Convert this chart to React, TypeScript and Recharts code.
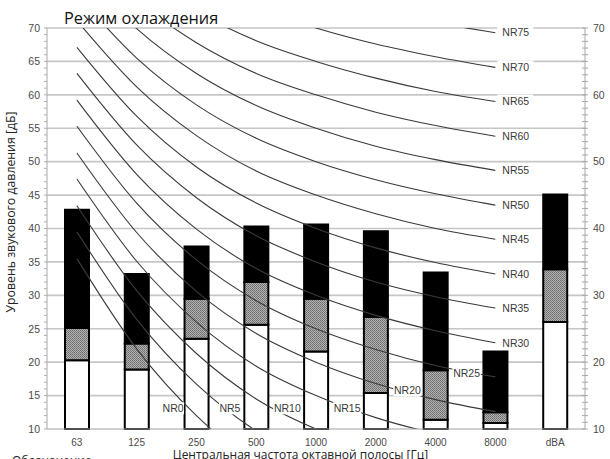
import React from 'react';
import { ComposedChart, Bar, Line, XAxis, YAxis, CartesianGrid, ReferenceDot } from 'recharts';

const bands = ['63', '125', '250', '500', '1000', '2000', '4000', '8000', 'dBA'];

// top of each bar segment, dB (white from 10 upwards, then grey, then black)
const whiteTop = [20.3, 18.9, 23.5, 25.6, 21.6, 15.4, 11.4, 10.9, 26.0];
const greyTop = [25.1, 22.8, 29.5, 32.0, 29.5, 26.8, 18.8, 12.5, 33.9];
const blackTop = [42.8, 33.2, 37.3, 40.3, 40.6, 39.6, 33.4, 21.6, 45.1];

const nrRatings = [0, 5, 10, 15, 20, 25, 30, 35, 40, 45, 50, 55, 60, 65, 70, 75];

// NR curves, levels at 63 Hz ... 8 kHz
const nrCurves = [
  [35.5, 22.0, 12.0, 4.8, 0.0, -3.5, -6.1, -8.0],
  [39.5, 26.4, 16.7, 9.7, 5.0, 1.6, -1.0, -2.9],
  [43.4, 30.7, 21.3, 14.5, 10.0, 6.7, 4.2, 2.3],
  [47.4, 35.1, 26.0, 19.4, 15.0, 11.7, 9.3, 7.5],
  [51.3, 39.4, 30.6, 24.3, 20.0, 16.8, 14.4, 12.6],
  [55.3, 43.8, 35.3, 29.2, 25.0, 21.9, 19.5, 17.8],
  [59.2, 48.1, 39.9, 34.0, 30.0, 27.0, 24.7, 22.9],
  [63.2, 52.5, 44.6, 38.9, 35.0, 32.0, 29.8, 28.1],
  [67.1, 56.8, 49.2, 43.8, 40.0, 37.1, 34.9, 33.2],
  [71.1, 61.2, 53.9, 48.6, 45.0, 42.2, 40.0, 38.4],
  [75.0, 65.5, 58.5, 53.5, 50.0, 47.3, 45.2, 43.5],
  [79.0, 69.9, 63.2, 58.4, 55.0, 52.3, 50.3, 48.7],
  [82.9, 74.2, 67.8, 63.2, 60.0, 57.4, 55.4, 53.8],
  [86.9, 78.6, 72.5, 68.1, 65.0, 62.5, 60.5, 59.0],
  [90.8, 82.9, 77.1, 73.0, 70.0, 67.6, 65.7, 64.1],
  [94.8, 87.3, 81.8, 77.9, 75.0, 72.6, 70.8, 69.3],
];

// where the NR0..NR25 tags sit (band index, dB); higher ratings are tagged after 8 kHz
const lowTagX = [1.61, 2.56, 3.52, 4.52, 5.53, 6.52];
const lowTagY = [13.1, 13.1, 13.1, 13.1, 15.8, 18.4];

const gridLevels = [15, 20, 25, 30, 35, 40, 45, 50, 55, 60, 65, 70];
const dbTicks = Array.from({ length: 61 }, (_, i) => 10 + i);
const bandTicks = bands.map((_, i) => i);

const rows = bands.map((band, i) => {
  const row: Record<string, any> = {
    x: i,
    white: [10, whiteTop[i]],
    grey: [whiteTop[i], greyTop[i]],
    black: [greyTop[i], blackTop[i]],
  };
  if (i < 8) nrRatings.forEach((nr, k) => { row['nr' + nr] = nrCurves[k][i]; });
  return row;
});

const tickFont = "'Liberation Sans', Arial, sans-serif";
const textFont = "'Open Sans', 'Noto Sans', sans-serif";

const LeftTick = ({ x, y, payload }: any) => (
  <g>
    <line x1={x - 3} x2={x} y1={y} y2={y} stroke="#b0b0b0" />
    {payload.value % 5 === 0 && (
      <text x={x - 7} y={y} dy={3.8} textAnchor="end" fontSize={10.5} fill="#4a4a4a" fontFamily={tickFont}>
        {payload.value}
      </text>
    )}
  </g>
);

const RightTick = ({ x, y, payload }: any) => (
  <g>
    <line x1={x - 3} x2={x + 3} y1={y} y2={y} stroke="#a8a8a8" />
    {payload.value % 10 === 0 && (
      <text x={x + 8} y={y} dy={3.8} textAnchor="start" fontSize={10.5} fill="#4a4a4a" fontFamily={tickFont}>
        {payload.value}
      </text>
    )}
  </g>
);

const BandTick = ({ x, y, payload }: any) => (
  <text x={x} y={y + 16.5} textAnchor="middle" fontSize={10} fill="#4a4a4a" fontFamily={tickFont}>
    {bands[payload.value]}
  </text>
);

// NR tag with a white plate that hides the grid and curve under it
const nrTag = (text: string, trailing: boolean) => (props: any) => {
  const vb = props.viewBox || { x: props.x, y: props.y, width: 0, height: 0 };
  const cx = vb.x + (vb.width || 0) / 2;
  const cy = vb.y + (vb.height || 0) / 2;
  const w = text.length * 6.6;
  if (trailing) {
    return (
      <g>
        <rect x={cx + 2} y={cy - 7} width={36} height={14} fill="#fff" />
        <text x={cx + 7} y={cy} dy={3.8} fontSize={10.5} fill="#3a3a3a" fontFamily={tickFont}>{text}</text>
      </g>
    );
  }
  return (
    <g>
      <rect x={cx - w / 2 - 1} y={cy - 6} width={w + 2} height={12} fill="#fff" />
      <text x={cx} y={cy} dy={3.8} textAnchor="middle" fontSize={10.5} fill="#3a3a3a" fontFamily={tickFont}>{text}</text>
    </g>
  );
};

export default function App() {
  return (
    <div style={{ position: 'absolute', left: 0, top: 0, width: 610, height: 459, overflow: 'hidden', background: '#fff' }}>
      <ComposedChart
        width={610}
        height={459}
        data={rows}
        margin={{ top: 28, right: 0, bottom: 0, left: 7 }}
        barSize={24}
        barGap={-24}
      >
        <defs>
          {/* fine grain for the grey segment */}
          <pattern id="stipple" width="2" height="2" patternUnits="userSpaceOnUse">
            <rect width="2" height="2" fill="#b2b2b2" />
            <rect x="0" y="0" width="1" height="1" fill="#6c6c6c" />
            <rect x="1" y="1" width="1" height="1" fill="#7a7a7a" />
          </pattern>
        </defs>
        <CartesianGrid yAxisId="left" vertical={false} horizontalValues={gridLevels} stroke="#c6c6c6" strokeWidth={1.6} />
        <XAxis
          dataKey="x"
          type="number"
          domain={[-0.5, 8.5]}
          ticks={bandTicks}
          interval={0}
          height={30}
          tickSize={0}
          tickMargin={0}
          tickLine={false}
          tick={<BandTick />}
          axisLine={{ stroke: '#a0a0a0' }}
        />
        <YAxis
          yAxisId="left"
          type="number"
          domain={[10, 70]}
          allowDataOverflow
          ticks={dbTicks}
          interval={0}
          width={40}
          tickSize={0}
          tickMargin={0}
          tickLine={false}
          tick={<LeftTick />}
          axisLine={{ stroke: '#a8a8a8' }}
        />
        <YAxis
          yAxisId="right"
          orientation="right"
          type="number"
          domain={[10, 70]}
          ticks={dbTicks}
          interval={0}
          width={25}
          tickSize={0}
          tickMargin={0}
          tickLine={false}
          tick={<RightTick />}
          axisLine={{ stroke: '#a8a8a8' }}
        />
        <Bar yAxisId="right" dataKey="white" fill="#fff" stroke="#000" strokeWidth={2} isAnimationActive={false} zIndex={300} />
        <Bar yAxisId="right" dataKey="grey" fill="url(#stipple)" stroke="#000" strokeWidth={2} isAnimationActive={false} zIndex={300} />
        <Bar yAxisId="right" dataKey="black" fill="#000" stroke="#000" strokeWidth={2} isAnimationActive={false} zIndex={300} />
        {nrRatings.map((nr) => (
          <Line
            key={nr}
            yAxisId="left"
            dataKey={'nr' + nr}
            type="monotone"
            stroke="#3a3a3a"
            strokeWidth={1.1}
            dot={false}
            activeDot={false}
            isAnimationActive={false}
            zIndex={400}
          />
        ))}
        {nrRatings.map((nr, k) =>
          k < lowTagX.length ? (
            <ReferenceDot
              key={'tag' + nr}
              yAxisId="left"
              x={lowTagX[k]}
              y={lowTagY[k]}
              r={0}
              fill="none"
              stroke="none"
              zIndex={1500}
              label={nrTag('NR' + nr, false)}
            />
          ) : (
            <ReferenceDot
              key={'tag' + nr}
              yAxisId="left"
              x={7}
              y={nrCurves[k][7]}
              r={0}
              fill="none"
              stroke="none"
              zIndex={1500}
              label={nrTag('NR' + nr, true)}
            />
          )
        )}
      </ComposedChart>
      <svg width={610} height={459} style={{ position: 'absolute', left: 0, top: 0, pointerEvents: 'none' }}>
        <text x={64} y={23.5} fontSize={16.3} fill="#111" fontFamily={textFont}>Режим охлаждения</text>
        <text
          x={15}
          y={212}
          transform="rotate(-90 15 212)"
          textAnchor="middle"
          fontSize={12.3}
          fill="#222"
          fontFamily={textFont}
        >
          Уровень звукового давления [дБ]
        </text>
        <text x={300.5} y={459} textAnchor="middle" fontSize={12} fill="#222" fontFamily={textFont}>
          Центральная частота октавной полосы [Гц]
        </text>
        <text x={12} y={464.6} fontSize={12} fill="#222" fontFamily={textFont}>Обозначение</text>
      </svg>
    </div>
  );
}
